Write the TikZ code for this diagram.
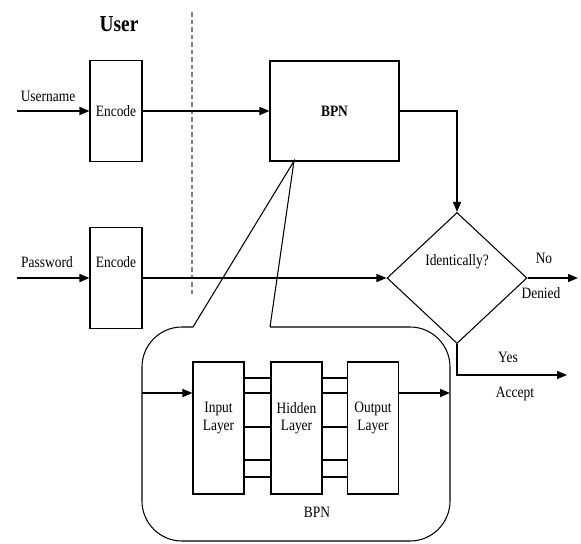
\documentclass[tikz,border=0pt]{standalone}
\usepackage{fontspec}
\setmainfont{Liberation Serif}[FakeStretch=0.85]
\usetikzlibrary{shapes.geometric,arrows.meta}
\begin{document}
\begin{tikzpicture}[x=0.2mm, y=-0.2mm,
    font=\fontsize{9}{10}\selectfont,
    block/.style ={rectangle, draw, line width=0.6pt, inner sep=0pt},
    encoder/.style ={block, minimum width=10.4mm, minimum height=20.2mm},
    layer/.style ={block, minimum width=10.2mm, minimum height=26.4mm},
    decision/.style ={diamond, draw, line width=0.6pt, inner sep=0pt, minimum width=28mm, minimum height=26.2mm},
    flow/.style ={line width=0.85pt, -{Triangle[length=2mm, width=1.6mm]}},
    link/.style ={line width=0.6pt}]
   \useasboundingbox (0,0) rectangle (581,543);
   % user side
   \node[font=\bfseries\fontsize{13}{14}\selectfont] (user) at (119,24) {User};
   \node (uname) at (48,96) {Username};
   \node (pword) at (47,262) {Password};
   \node[encoder] (enc1) at (116,111) {Encode};
   \node[encoder, label={[yshift=3.2mm]center:Encode}] (enc2) at (116,278) {};
   \coordinate (start1) at (17,111);
   \coordinate (start2) at (17,278);
   \coordinate (septop) at (192,12);
   \coordinate (sepbot) at (192,296);
   \draw[gray, line width=0.8pt, dash pattern=on 0.9mm off 0.6mm] (septop) to (sepbot);
   % server side
   \node[block, minimum width=25.8mm, minimum height=20mm, font=\bfseries\fontsize{9}{10}\selectfont] (bpn) at (334.5,111) {BPN};
   \node[decision, label={[yshift=3.2mm]center:Identically?}] (check) at (457,278) {};
   \coordinate (denied) at (578,278);
   \coordinate (turn) at (457,375);
   \coordinate (accept) at (567,375);
   \node (no) at (544,258) {No};
   \node (den) at (541,293) {Denied};
   \node (yes) at (508,357) {Yes};
   \node (acc) at (515,394) {Accept};
   \draw[flow] (start1) to (enc1);
   \draw[flow] (enc1) to (bpn);
   \draw[flow] (start2) to (enc2);
   \draw[flow] (enc2) to (check);
   \draw[flow] (bpn) -| (check);
   \draw[flow] (check) to (denied);
   \draw[flow] (check.south) -- (turn) -- (accept);
   % zoom into the network
   \coordinate (apex) at (294,161);
   \draw[link] (270,327) -- (apex) -- (193,327) [rounded corners=8mm] -- (142,327)
      -- (142,541) -- (450,541) -- (450,327) -- (270,327);
   \coordinate (netin) at (142,393);
   \coordinate (netout) at (450,393);
   \node[layer, label={[yshift=2mm, align=center]center:Input\\Layer}] (input) at (218.5,428) {};
   \node[layer, label={[yshift=2mm, align=center]center:Hidden\\Layer}] (hidden) at (296.5,428) {};
   \node[layer, label={[yshift=2mm, align=center]center:Output\\Layer}] (output) at (373,428) {};
   \node (net) at (317,512) {BPN};
   \foreach \y in {378,393,427,460,477} {
      \draw[link] (input.east |- 0,\y) -- (hidden.west |- 0,\y);
      \draw[link] (hidden.east |- 0,\y) -- (output.west |- 0,\y);
   }
   \draw[flow] (netin) to (input.west |- netin);
   \draw[flow] (output.east |- netout) to (netout);
 \end{tikzpicture}
\end{document}
